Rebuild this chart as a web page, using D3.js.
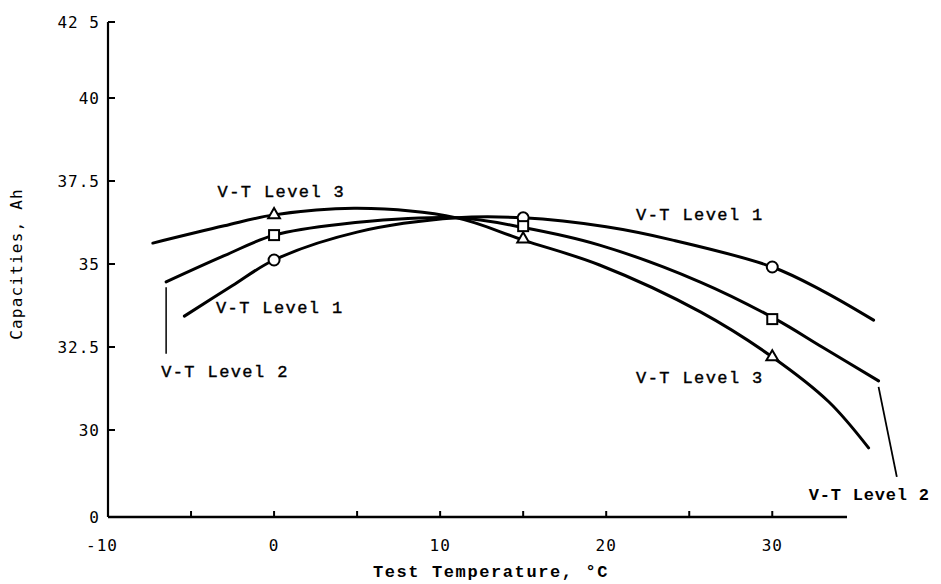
<!DOCTYPE html>
<html>
<head>
<meta charset="utf-8">
<script src="https://cdn.jsdelivr.net/npm/d3@7"></script>
<style>
  body { margin: 0; background: white; }
</style>
</head>
<body>
<div id="chart"></div>
<script>

const width = 941
const height = 584

// curves (temperature °C, capacity Ah)
const level1Curve = [[-5.4, 33.43], [-2.5, 34.35], [0, 35.12], [5, 35.96], [11, 36.39], [15, 36.39], [20, 36.12], [24, 35.72], [30, 34.91], [33, 34.2], [36.1, 33.31]];
const level2Curve = [[-6.5, 34.46], [-3, 35.25], [0, 35.87], [4, 36.2], [11, 36.39], [15, 36.1], [19.6, 35.57], [25.7, 34.45], [30.2, 33.34], [33, 32.5], [36.4, 31.48]];
const level3Curve = [[-7.3, 35.63], [-3, 36.15], [0, 36.48], [5, 36.68], [11, 36.39], [15, 35.72], [19.6, 34.97], [25.7, 33.55], [30, 32.2], [33.4, 30.85], [35.8, 29.46]];

// measured points
const testTemps = [0, 15, 30];
const level1Points = [35.12, 36.39, 34.91];
const level2Points = [35.87, 36.14, 33.34];
const level3Points = [36.48, 35.75, 32.2];

const yTicks = [0, 30, 32.5, 35, 37.5, 40, 42.5];
const yTickLabels = ["0", "30", "32.5", "35", "37.5", "40", "42 5"];
const xTicks = [-10, -5, 0, 5, 10, 15, 20, 25, 30];
const xTickLabels = [-10, 0, 10, 20, 30];

// curve labels: [text, temp, capacity]
const curveLabels = [
  ["V-T Level 3", -3.4, 37.02],
  ["V-T Level 1", -3.5, 33.52],
  ["V-T Level 2", -6.8, 31.6],
  ["V-T Level 1", 21.8, 36.33],
  ["V-T Level 3", 21.8, 31.42],
];

const svg = d3.select("#chart")
  .append("svg")
  .attr("width", width)
  .attr("height", height)

// broken value axis: 0..29 squeezed at the bottom
const x = d3.scaleLinear().domain([-10, 34.5]).range([108, 847]);
const y = d3.scaleLinear().domain([0, 29, 40, 42.5]).range([517, 463.2, 98, 22]);

const tickFont = "'DejaVu Sans Mono', monospace";
const typeFont = "'Liberation Mono', 'Courier New', monospace";

// axes
svg.append("line")
  .attr("x1", x(-10)).attr("x2", x(-10))
  .attr("y1", y(42.5)).attr("y2", y(0))
  .attr("stroke", "black").attr("stroke-width", 2.2)
svg.append("line")
  .attr("x1", x(-10)).attr("x2", x(34.5))
  .attr("y1", y(0)).attr("y2", y(0))
  .attr("stroke", "black").attr("stroke-width", 2.6)

svg.selectAll("line.ytick")
  .data(yTicks)
  .enter().append("line")
  .attr("class", "ytick")
  .attr("x1", x(-10)).attr("x2", x(-10) + 7)
  .attr("y1", d => y(d)).attr("y2", d => y(d))
  .attr("stroke", "black").attr("stroke-width", 2)

svg.selectAll("text.ylab")
  .data(yTicks)
  .enter().append("text")
  .attr("class", "ylab")
  .attr("x", x(-10) - 8)
  .attr("y", d => y(d) + 6)
  .attr("text-anchor", "end")
  .attr("font-family", tickFont)
  .attr("font-size", 16)
  .attr("letter-spacing", 1)
  .text((d, i) => yTickLabels[i])

svg.selectAll("line.xtick")
  .data(xTicks)
  .enter().append("line")
  .attr("class", "xtick")
  .attr("x1", d => x(d)).attr("x2", d => x(d))
  .attr("y1", y(0)).attr("y2", y(0) - 6)
  .attr("stroke", "black").attr("stroke-width", 2)

svg.selectAll("text.xlab")
  .data(xTickLabels)
  .enter().append("text")
  .attr("class", "xlab")
  .attr("x", d => x(d) - (d < 0 ? 6 : 0))
  .attr("y", y(0) + 34)
  .attr("text-anchor", "middle")
  .attr("font-family", tickFont)
  .attr("font-size", 16)
  .attr("letter-spacing", 1)
  .text(d => d)

svg.append("text")
  .attr("transform", `translate(22, ${y(35)}) rotate(-90)`)
  .attr("text-anchor", "middle")
  .attr("font-family", tickFont)
  .attr("font-size", 16)
  .attr("letter-spacing", 1.2)
  .text("Capacities, Ah")

svg.append("text")
  .attr("x", 491)
  .attr("y", 577)
  .attr("text-anchor", "middle")
  .attr("font-family", typeFont)
  .attr("font-weight", "bold")
  .attr("font-size", 17)
  .attr("letter-spacing", 1.6)
  .text("Test Temperature, °C")

// curves
const line = d3.line()
  .x(d => x(d[0]))
  .y(d => y(d[1]))
  .curve(d3.curveCatmullRom.alpha(0.5));

[level1Curve, level2Curve, level3Curve].forEach(c => {
  svg.append("path")
    .datum(c)
    .attr("d", line)
    .attr("fill", "none")
    .attr("stroke", "black")
    .attr("stroke-width", 3)
    .attr("stroke-linecap", "round")
})

// leader lines for the Level 2 labels
svg.append("line")
  .attr("x1", x(-6.5)).attr("x2", x(-6.5))
  .attr("y1", y(34.3)).attr("y2", y(32.3))
  .attr("stroke", "black").attr("stroke-width", 1.5)
svg.append("line")
  .attr("x1", x(36.4)).attr("x2", x(37.5))
  .attr("y1", y(31.3)).attr("y2", y(21.6))
  .attr("stroke", "black").attr("stroke-width", 1.8)

// markers
svg.selectAll("circle.l1")
  .data(testTemps)
  .enter().append("circle")
  .attr("class", "l1")
  .attr("cx", d => x(d))
  .attr("cy", (d, i) => y(level1Points[i]))
  .attr("r", 5.5)
  .attr("fill", "white")
  .attr("stroke", "black")
  .attr("stroke-width", 2)

svg.selectAll("rect.l2")
  .data(testTemps)
  .enter().append("rect")
  .attr("class", "l2")
  .attr("x", d => x(d) - 5)
  .attr("y", (d, i) => y(level2Points[i]) - 5)
  .attr("width", 10)
  .attr("height", 10)
  .attr("fill", "white")
  .attr("stroke", "black")
  .attr("stroke-width", 2)

const tri = d3.symbol().type(d3.symbolTriangle).size(60);
svg.selectAll("path.l3")
  .data(testTemps)
  .enter().append("path")
  .attr("class", "l3")
  .attr("d", tri)
  .attr("transform", (d, i) => `translate(${x(d)},${y(level3Points[i])})`)
  .attr("fill", "white")
  .attr("stroke", "black")
  .attr("stroke-width", 2)

// curve labels
svg.selectAll("text.curvelab")
  .data(curveLabels)
  .enter().append("text")
  .attr("class", "curvelab")
  .attr("x", d => x(d[1]))
  .attr("y", d => y(d[2]))
  .attr("font-family", typeFont)
  .attr("font-size", 17)
  .attr("letter-spacing", 1.4)
  .attr("stroke", "black")
  .attr("stroke-width", 0.4)
  .text(d => d[0])

svg.append("text")
  .attr("x", x(32.2))
  .attr("y", y(9.2))
  .attr("font-family", typeFont)
  .attr("font-weight", "bold")
  .attr("font-size", 17)
  .attr("letter-spacing", 0.8)
  .text("V-T Level 2")

</script>
</body>
</html>
